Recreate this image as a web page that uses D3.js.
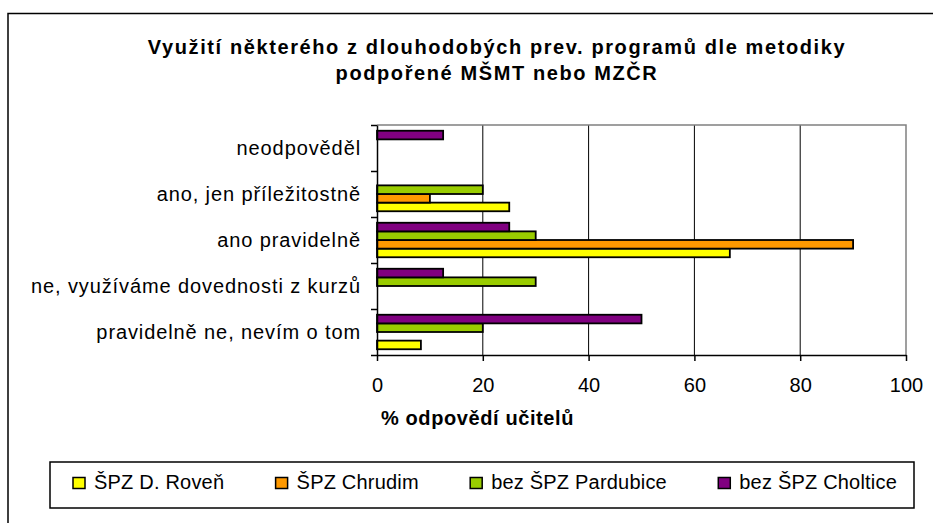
<!DOCTYPE html>
<html>
<head>
<meta charset="utf-8">
<script src="https://cdn.jsdelivr.net/npm/d3@7"></script>
<style>
  html, body { margin: 0; padding: 0; background: #fff; }
  svg { display: block; font-family: Arial, "Liberation Sans", sans-serif; }
</style>
</head>
<body>
<svg id="chart" width="933" height="523"></svg>
<script>
// ---- data ----
const titleLines = ["Využití některého z dlouhodobých prev. programů dle metodiky", "podpořené MŠMT nebo MZČR"];
const axisTitle = "% odpovědí učitelů";
// categories listed bottom to top (as in the chart)
const categories = ["pravidelně ne, nevím o tom", "ne, využíváme dovednosti z kurzů", "ano pravidelně", "ano, jen příležitostně", "neodpověděl"];
const seriesNames = ["ŠPZ D. Roveň", "ŠPZ Chrudim", "bez ŠPZ Pardubice", "bez ŠPZ Choltice"];
const rovenValues = [8.3, 0, 66.7, 25, 0];
const chrudimValues = [0, 0, 90, 10, 0];
const pardubiceValues = [20, 30, 30, 20, 0];
const cholticeValues = [50, 12.5, 25, 0, 12.5];
const xTicks = [0, 20, 40, 60, 80, 100];

const seriesValues = [rovenValues, chrudimValues, pardubiceValues, cholticeValues];
const seriesColors = ["#FFFF00", "#FF9900", "#99CC00", "#800080"];

// ---- layout ----
const svg = d3.select("#chart");
const plot = { left: 377, right: 906, top: 125, bottom: 355 };

// outer chart border
svg.append("rect").attr("x", 8).attr("y", 13.5).attr("width", 1000).attr("height", 600)
  .attr("fill", "#fff").attr("stroke", "#000").attr("stroke-width", 1.5);

// title
const title = svg.append("text").attr("text-anchor", "middle")
  .attr("font-weight", "bold").attr("font-size", 20).attr("letter-spacing", 1.6).attr("fill", "#000");
titleLines.forEach((t, i) => {
  title.append("tspan").attr("x", 497).attr("y", 54 + i * 26).text(t);
});

// scales
const x = d3.scaleLinear().domain([0, 100]).range([plot.left, plot.right]);
const y = d3.scaleBand().domain(categories.slice().reverse())
  .range([plot.top, plot.bottom]).paddingInner(0.25).paddingOuter(0.125);
const ySub = d3.scaleBand().domain(d3.range(seriesNames.length).reverse())
  .range([0, y.bandwidth()]);
const yIdx = d3.scaleLinear().domain([0, categories.length]).range([plot.bottom, plot.top]);

// gridlines
svg.append("g").selectAll("line").data(xTicks.filter(v => v > 0 && v < 100)).join("line")
  .attr("x1", d => x(d)).attr("x2", d => x(d))
  .attr("y1", plot.top).attr("y2", plot.bottom)
  .attr("stroke", "#000").attr("stroke-width", 1);

// plot border (top & right, gray)
svg.append("path")
  .attr("d", `M${plot.left},${plot.top}H${plot.right}V${plot.bottom}`)
  .attr("fill", "none").attr("stroke", "#808080").attr("stroke-width", 1.5);

// bars
const rows = [];
seriesValues.forEach((vals, s) => {
  vals.forEach((v, c) => { if (v > 0) rows.push({ s, c: categories[c], v }); });
});
svg.append("g").selectAll("rect").data(rows).join("rect")
  .attr("x", x(0))
  .attr("y", d => y(d.c) + ySub(d.s))
  .attr("width", d => x(d.v) - x(0))
  .attr("height", ySub.bandwidth())
  .attr("fill", d => seriesColors[d.s])
  .attr("stroke", "#000").attr("stroke-width", 1.8);

// x axis
const xAxis = svg.append("g").attr("transform", `translate(0,${plot.bottom})`)
  .call(d3.axisBottom(x).tickValues(xTicks).tickSize(6).tickPadding(17).tickSizeOuter(0));
xAxis.select(".domain").attr("stroke", "#000").attr("stroke-width", 1.5);
xAxis.selectAll(".tick line").attr("stroke", "#000").attr("stroke-width", 1.5);
xAxis.selectAll("text").attr("font-size", 20).attr("font-family", "Arial, 'Liberation Sans', sans-serif").attr("fill", "#000");

// y axis (ticks at category boundaries)
const yAxis = svg.append("g").attr("transform", `translate(${plot.left},0)`)
  .call(d3.axisLeft(yIdx).ticks(categories.length).tickSize(6).tickFormat("").tickSizeOuter(0));
yAxis.select(".domain").attr("stroke", "#000").attr("stroke-width", 1.5);
yAxis.selectAll(".tick line").attr("stroke", "#000").attr("stroke-width", 1.5);

// category labels
svg.append("g").selectAll("text").data(categories).join("text")
  .attr("x", 361).attr("y", d => y(d) + y.bandwidth() / 2 + 7)
  .attr("text-anchor", "end").attr("font-size", 20).attr("letter-spacing", 0.9)
  .attr("fill", "#000").text(d => d);

// axis title
svg.append("text").attr("x", 381).attr("y", 425)
  .attr("font-weight", "bold").attr("font-size", 20).attr("letter-spacing", 0.6)
  .attr("fill", "#000").text(axisTitle);

// legend
svg.append("rect").attr("x", 50).attr("y", 462).attr("width", 864).attr("height", 46)
  .attr("fill", "#fff").attr("stroke", "#000").attr("stroke-width", 1.5);
const lg = svg.append("g");
const items = lg.selectAll("g").data(seriesNames).join("g");
items.append("rect").attr("width", 12).attr("height", 11).attr("y", 477.5)
  .attr("fill", (d, i) => seriesColors[i]).attr("stroke", "#000").attr("stroke-width", 1.5);
const ltexts = items.append("text").attr("y", 489).attr("font-size", 20).attr("letter-spacing", 0.2)
  .attr("fill", "#000").text(d => d);
const widths = ltexts.nodes().map(n => n.getComputedTextLength());
const markerW = 12, gapText = 9, startX = 73, endX = 897;
const totalItems = d3.sum(widths) + seriesNames.length * (markerW + gapText);
const spacing = (endX - startX - totalItems) / (seriesNames.length - 1);
let cx = startX;
items.each(function(d, i) {
  d3.select(this).select("rect").attr("x", cx);
  d3.select(this).select("text").attr("x", cx + markerW + gapText);
  cx += markerW + gapText + widths[i] + spacing;
});
</script>
</body>
</html>
